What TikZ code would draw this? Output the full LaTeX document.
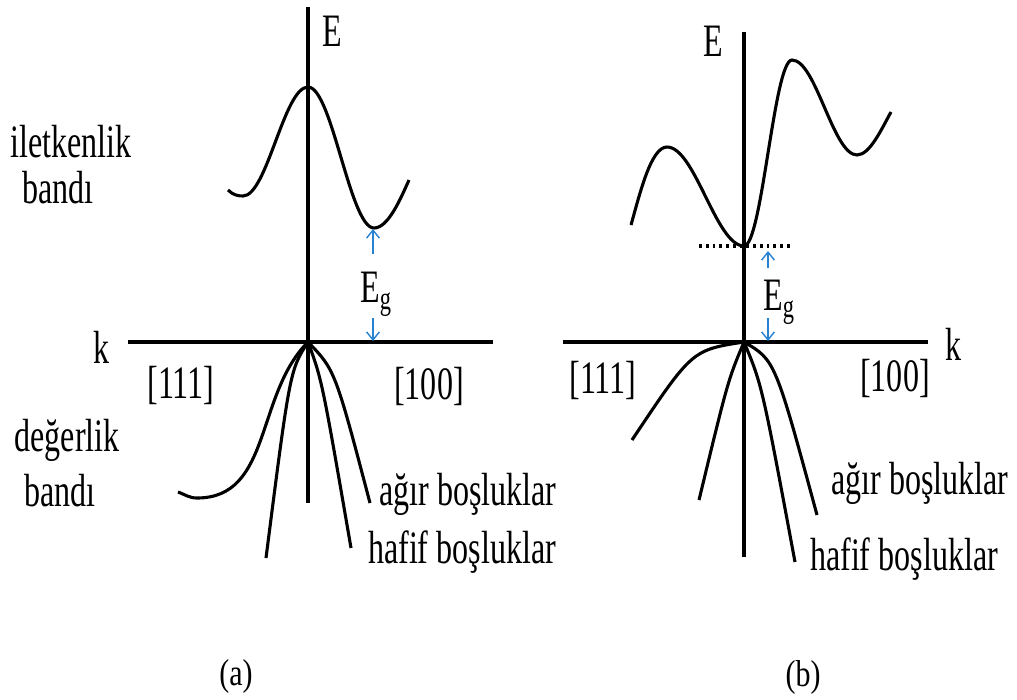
\documentclass[tikz,border=0pt]{standalone}
\usepackage{fontspec}
\setmainfont{Liberation Serif}[Ligatures=NoCommon]
\usepackage{xcolor}
\usepackage{graphicx}
\usepackage{tikz}
\usetikzlibrary{arrows.meta}

\definecolor{gapblue}{RGB}{40,130,210}
\newcommand{\tall}[1]{\scalebox{1}[1.45]{#1}}

\begin{document}
\begin{tikzpicture}[x=0.025cm, y=0.025cm,
        axis/.style={line width=2.4pt},
        band/.style={line width=2.2pt},
        lbl/.style={inner sep=0pt, font=\fontsize{22.8}{27}\selectfont},
        captext/.style={inner sep=0pt, font=\fontsize{21.3}{25}\selectfont},
        gaparrow/.style={gapblue, line width=1pt, -{Straight Barb[length=2mm, width=3.2mm]}},
        dots/.style={line width=2.4pt, dash pattern=on 2pt off 2.8pt}
    ]
        \useasboundingbox (0,0) rectangle (1017,-699);

        % (a) Ge side
        \coordinate (oa) at (308,-342);
        \draw[axis] (308,-7) -- (308,-503);
        \draw[axis] (128,-342) -- (493,-342);

        \node[lbl] (Ea) at (332,-31) {\tall{E}};
        \node[lbl] (ka) at (102,-347) {\tall{k}};
        \node[lbl] (d111a) at (181,-385) {\tall{[111]}};
        \node[lbl] (d100a) at (429,-386) {\tall{[100]}};

        \draw[band] (228,-190) .. controls (233,-195) and (238,-196) .. (243,-196)
            .. controls (267,-196) and (284,-87) .. (308,-87)
            .. controls (332,-87) and (350,-228) .. (374,-228)
            .. controls (388,-228) and (400,-200) .. (409,-180);

        \draw[band] (oa) to[out=225,in=0] (197,-498) to[out=180,in=-20] (178,-492);
        \draw[band] (oa) .. controls (290,-370) .. (266,-558);
        \draw[band] (oa) .. controls (322,-380) .. (351,-548);
        \draw[band] (oa) .. controls (335,-370) .. (370,-503);

        \node[lbl] (cba1) at (71,-142) {\tall{iletkenlik}};
        \node[lbl] (cba2) at (58,-188) {\tall{bandı}};
        \node[lbl] (vba1) at (67,-440) {\tall{değerlik}};
        \node[lbl] (vba2) at (60,-491) {\tall{bandı}};
        \node[lbl] (heavya) at (468,-494) {\tall{ağır boşluklar}};
        \node[lbl] (lighta) at (462,-552) {\tall{hafif boşluklar}};

        \node[lbl, anchor=north west] (Ega) at (360,-272) {\tall{E\textsubscript{g}}};
        \coordinate (cmina) at (373,-229);
        \coordinate (taila1) at (373,-254);
        \coordinate (taila2) at (373,-318);
        \coordinate (kaxa) at (373,-341);
        \draw[gaparrow] (taila1) -- (cmina);
        \draw[gaparrow] (taila2) -- (kaxa);

        \node[captext] (capa) at (236,-676) {\scalebox{1}[1.25]{(a)}};

        % (b) Si side
        \coordinate (ob) at (744,-342);
        \draw[axis] (744,-32) -- (744,-557);
        \draw[axis] (563,-342) -- (928,-342);

        \node[lbl] (Eb) at (713,-41) {\tall{E}};
        \node[lbl] (kb) at (953,-344) {\tall{k}};
        \node[lbl] (d111b) at (603,-380) {\tall{[111]}};
        \node[lbl] (d100b) at (895,-378) {\tall{[100]}};

        \draw[band] (631,-225) .. controls (640,-193) and (651,-147) .. (667,-147)
            .. controls (695,-147) and (716,-246) .. (744,-246)
            .. controls (762,-246) and (774,-60) .. (792,-60)
            .. controls (816,-60) and (833,-155) .. (857,-155)
            .. controls (870,-155) and (882,-128) .. (891,-112);
        \draw[dots] (699,-246) -- (792,-246);

        \draw[band] (ob) .. controls (692,-350) .. (632,-440);
        \draw[band] (ob) .. controls (728,-380) .. (699,-500);
        \draw[band] (ob) .. controls (762,-385) .. (795,-562);
        \draw[band] (ob) .. controls (775,-360) .. (817,-515);

        \node[lbl] (heavyb) at (920,-483) {\tall{ağır boşluklar}};
        \node[lbl] (lightb) at (904,-559) {\tall{hafif boşluklar}};

        \node[lbl, anchor=north west] (Egb) at (763,-280) {\tall{E\textsubscript{g}}};
        \coordinate (cminb) at (768,-251);
        \coordinate (tailb1) at (768,-268);
        \coordinate (tailb2) at (768,-318);
        \coordinate (kaxb) at (768,-341);
        \draw[gaparrow] (tailb1) -- (cminb);
        \draw[gaparrow] (tailb2) -- (kaxb);

        \node[captext] (capb) at (803,-677) {\scalebox{1}[1.25]{(b)}};
    \end{tikzpicture}
\end{document}
